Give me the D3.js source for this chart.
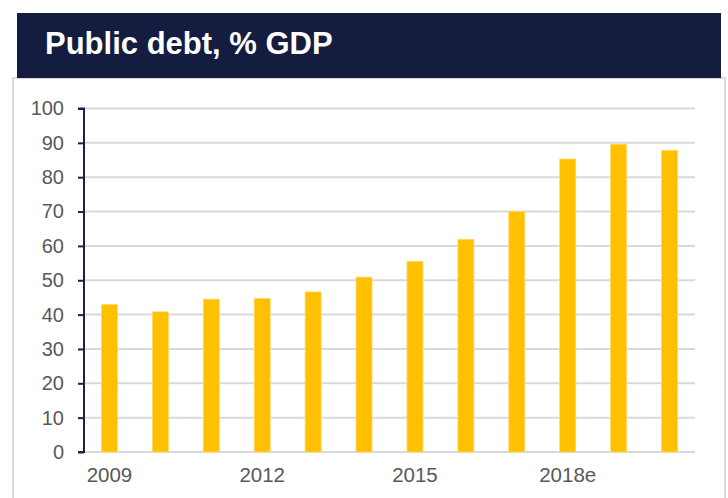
<!DOCTYPE html>
<html>
<head>
<meta charset="utf-8">
<script src="https://cdn.jsdelivr.net/npm/d3@7"></script>
<style>
  html, body { margin: 0; padding: 0; background: #ffffff; }
  svg { display: block; }
  text { font-family: "Liberation Sans", Arial, sans-serif; }
</style>
</head>
<body>
<svg id="chart" width="728" height="498"></svg>
<script>
// Public debt as a share of GDP, 2009 to 2020 (2018 onwards estimated)
const years = ["2009", "2010", "2011", "2012", "2013", "2014", "2015", "2016", "2017", "2018e", "2019e", "2020e"];
const debtPct = [42.9, 40.8, 44.5, 44.7, 46.6, 50.9, 55.5, 61.9, 70.0, 85.3, 89.6, 87.8];
const shownYearLabels = ["2009", "2012", "2015", "2018e"];
const yTicks = [0, 10, 20, 30, 40, 50, 60, 70, 80, 90, 100];
const title = "Public debt, % GDP";

const svg = d3.select("#chart");

// Outer panel frame
svg.append("rect")
  .attr("x", 13).attr("y", 78)
  .attr("width", 712).attr("height", 440)
  .attr("fill", "#ffffff")
  .attr("stroke", "#d9d9d9")
  .attr("stroke-width", 2);

// Title band
svg.append("rect")
  .attr("x", 17).attr("y", 13)
  .attr("width", 704).attr("height", 65)
  .attr("fill", "#141c40");

svg.append("text")
  .attr("x", 45).attr("y", 54)
  .attr("fill", "#ffffff")
  .attr("font-size", 31)
  .attr("font-weight", "bold")
  .text(title);

// Plot area
const plot = { left: 84, right: 695, top: 108.5, bottom: 452 };

const x = d3.scaleBand()
  .domain(years)
  .range([plot.left, plot.right])
  .paddingInner(0.686)
  .paddingOuter(0.343);

const y = d3.scaleLinear()
  .domain([0, 100])
  .range([plot.bottom, plot.top]);

// Horizontal gridlines
svg.append("g")
  .selectAll("line")
  .data(yTicks)
  .join("line")
  .attr("x1", plot.left)
  .attr("x2", plot.right)
  .attr("y1", d => y(d))
  .attr("y2", d => y(d))
  .attr("stroke", "#d9d9d9")
  .attr("stroke-width", 2);

// Bars
svg.append("g")
  .selectAll("rect")
  .data(years.map((yr, i) => ({ yr, v: debtPct[i] })))
  .join("rect")
  .attr("x", d => x(d.yr))
  .attr("y", d => y(d.v))
  .attr("width", x.bandwidth())
  .attr("height", d => y(0) - y(d.v))
  .attr("fill", "#ffc000")
  .attr("stroke", "#ffd966")
  .attr("stroke-width", 0.8);

// Y axis
const yAxis = svg.append("g")
  .attr("transform", `translate(${plot.left},0)`)
  .call(d3.axisLeft(y).tickValues(yTicks).tickSize(6).tickPadding(14));

yAxis.select(".domain")
  .attr("stroke", "#1a2145")
  .attr("stroke-width", 2)
  .attr("d", `M-6,${plot.top}H0V${plot.bottom}H-6`);
yAxis.selectAll(".tick line")
  .attr("stroke", "#1a2145")
  .attr("stroke-width", 2);
yAxis.selectAll(".tick text")
  .attr("fill", "#595959")
  .attr("font-size", 20)
  .attr("font-family", "Liberation Sans, Arial, sans-serif");

// X axis labels (every third year)
const xAxis = svg.append("g")
  .attr("transform", `translate(0,${plot.bottom})`)
  .call(d3.axisBottom(x).tickValues(shownYearLabels).tickSize(0).tickPadding(15));

xAxis.select(".domain").remove();
xAxis.selectAll(".tick text")
  .attr("fill", "#595959")
  .attr("font-size", 20.5)
  .attr("font-family", "Liberation Sans, Arial, sans-serif");
</script>
</body>
</html>
